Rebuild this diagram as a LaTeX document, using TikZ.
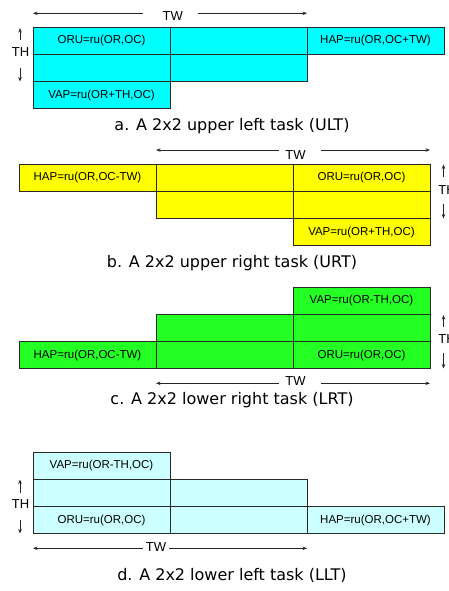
\documentclass[tikz,border=0pt]{standalone}
\usepackage{fontspec}
\setmainfont{DejaVu Sans}
\newfontfamily\cellfont{Liberation Sans}
\usetikzlibrary{arrows.meta}
\definecolor{ultfill}{RGB}{0,255,255}
\definecolor{urtfill}{RGB}{255,255,0}
\definecolor{lrtfill}{RGB}{36,255,36}
\definecolor{lltfill}{RGB}{204,255,255}
\definecolor{edge}{RGB}{40,40,40}

\begin{document}
\begin{tikzpicture}[x=1pt,y=-1pt,
  cell/.style={draw=edge, line width=0.9pt, minimum width=137pt, minimum height=27.3pt,
    inner sep=0pt, outer sep=0pt, anchor=north west,
    font=\cellfont\fontsize{11.5}{12}\selectfont},
  dimlabel/.style={font=\cellfont\fontsize{13}{13}\selectfont, inner sep=0pt},
  dimarrow/.style={draw=black!85, line width=0.7pt, -{Stealth[length=4.5pt,width=3.5pt]}},
  caption/.style={font=\fontsize{16}{16}\selectfont, anchor=base, inner sep=0pt}]
\useasboundingbox (0,0) rectangle (448,591);

% ---------- a. upper left task ----------
\node[cell, fill=ultfill] (a11) at (33,27) {ORU=ru(OR,OC)};
\node[cell, fill=ultfill] (a12) at (a11.north east) {};
\node[cell, fill=ultfill] (a13) at (a12.north east) {HAP=ru(OR,OC+TW)};
\node[cell, fill=ultfill] (a21) at (a11.south west) {};
\node[cell, fill=ultfill] (a22) at (a21.north east) {};
\node[cell, fill=ultfill] (a31) at (a21.south west) {VAP=ru(OR+TH,OC)};

\node[dimlabel] (aTW) at (172.7,16.5) {TW};
\coordinate (aTWl0) at (143,13.3);  \coordinate (aTWl) at (33,13.3);
\coordinate (aTWr0) at (198,13.3);  \coordinate (aTWr) at (307,13.3);
\draw[dimarrow] (aTWl0) -- (aTWl);
\draw[dimarrow] (aTWr0) -- (aTWr);

\node[dimlabel] (aTH) at (20.5,52) {TH};
\coordinate (aTHu0) at (20,40);  \coordinate (aTHu) at (20,28);
\coordinate (aTHd0) at (20,68);  \coordinate (aTHd) at (20,81.5);
\draw[dimarrow] (aTHu0) -- (aTHu);
\draw[dimarrow] (aTHd0) -- (aTHd);

\node[caption] (capA) at (232,130.7) {a. A 2x2 upper left task (ULT)};

% ---------- b. upper right task ----------
\node[cell, fill=urtfill] (b11) at (19,164) {HAP=ru(OR,OC-TW)};
\node[cell, fill=urtfill] (b12) at (b11.north east) {};
\node[cell, fill=urtfill] (b13) at (b12.north east) {ORU=ru(OR,OC)};
\node[cell, fill=urtfill] (b22) at (b12.south west) {};
\node[cell, fill=urtfill] (b23) at (b22.north east) {};
\node[cell, fill=urtfill] (b33) at (b23.south west) {VAP=ru(OR+TH,OC)};

\node[dimlabel] (bTW) at (295.5,155) {TW};
\coordinate (bTWl0) at (279,150);  \coordinate (bTWl) at (156,150);
\coordinate (bTWr0) at (321,150);  \coordinate (bTWr) at (430,150);
\draw[dimarrow] (bTWl0) -- (bTWl);
\draw[dimarrow] (bTWr0) -- (bTWr);

\node[dimlabel] (bTH) at (447,190) {TH};
\coordinate (bTHu0) at (443.5,177);  \coordinate (bTHu) at (443.5,164.5);
\coordinate (bTHd0) at (443.5,204);  \coordinate (bTHd) at (443.5,218.5);
\draw[dimarrow] (bTHu0) -- (bTHu);
\draw[dimarrow] (bTHd0) -- (bTHd);

\node[caption] (capB) at (232,267.3) {b. A 2x2 upper right task (URT)};

% ---------- c. lower right task ----------
\node[cell, fill=lrtfill] (c13) at (293,287) {VAP=ru(OR-TH,OC)};
\node[cell, fill=lrtfill] (c22) at (156,314.3) {};
\node[cell, fill=lrtfill] (c23) at (c22.north east) {};
\node[cell, fill=lrtfill] (c31) at (19,341.6) {HAP=ru(OR,OC-TW)};
\node[cell, fill=lrtfill] (c32) at (c31.north east) {};
\node[cell, fill=lrtfill] (c33) at (c32.north east) {ORU=ru(OR,OC)};

\node[dimlabel] (cTW) at (295.5,381.3) {TW};
\coordinate (cTWl0) at (279,383.3);  \coordinate (cTWl) at (156,383.3);
\coordinate (cTWr0) at (321,383.3);  \coordinate (cTWr) at (430,383.3);
\draw[dimarrow] (cTWl0) -- (cTWl);
\draw[dimarrow] (cTWr0) -- (cTWr);

\node[dimlabel] (cTH) at (447,339.5) {TH};
\coordinate (cTHu0) at (443.5,327);  \coordinate (cTHu) at (443.5,315);
\coordinate (cTHd0) at (443.5,353);  \coordinate (cTHd) at (443.5,368.5);
\draw[dimarrow] (cTHu0) -- (cTHu);
\draw[dimarrow] (cTHd0) -- (cTHd);

\node[caption] (capC) at (232,404) {c. A 2x2 lower right task (LRT)};

% ---------- d. lower left task ----------
\node[cell, fill=lltfill] (d11) at (33,452) {VAP=ru(OR-TH,OC)};
\node[cell, fill=lltfill] (d21) at (d11.south west) {};
\node[cell, fill=lltfill] (d22) at (d21.north east) {};
\node[cell, fill=lltfill] (d31) at (d21.south west) {ORU=ru(OR,OC)};
\node[cell, fill=lltfill] (d32) at (d31.north east) {};
\node[cell, fill=lltfill] (d33) at (d32.north east) {HAP=ru(OR,OC+TW)};

\node[dimlabel] (dTW) at (156,546.7) {TW};
\coordinate (dTWl0) at (143,548.3);  \coordinate (dTWl) at (33,548.3);
\coordinate (dTWr0) at (169,548.3);  \coordinate (dTWr) at (307,548.3);
\draw[dimarrow] (dTWl0) -- (dTWl);
\draw[dimarrow] (dTWr0) -- (dTWr);

\node[dimlabel] (dTH) at (20.5,504.5) {TH};
\coordinate (dTHu0) at (20,493);  \coordinate (dTHu) at (20,479.5);
\coordinate (dTHd0) at (20,520);  \coordinate (dTHd) at (20,533.5);
\draw[dimarrow] (dTHu0) -- (dTHu);
\draw[dimarrow] (dTHd0) -- (dTHd);

\node[caption] (capD) at (232,580.7) {d. A 2x2 lower left task (LLT)};
\end{tikzpicture}
\end{document}
